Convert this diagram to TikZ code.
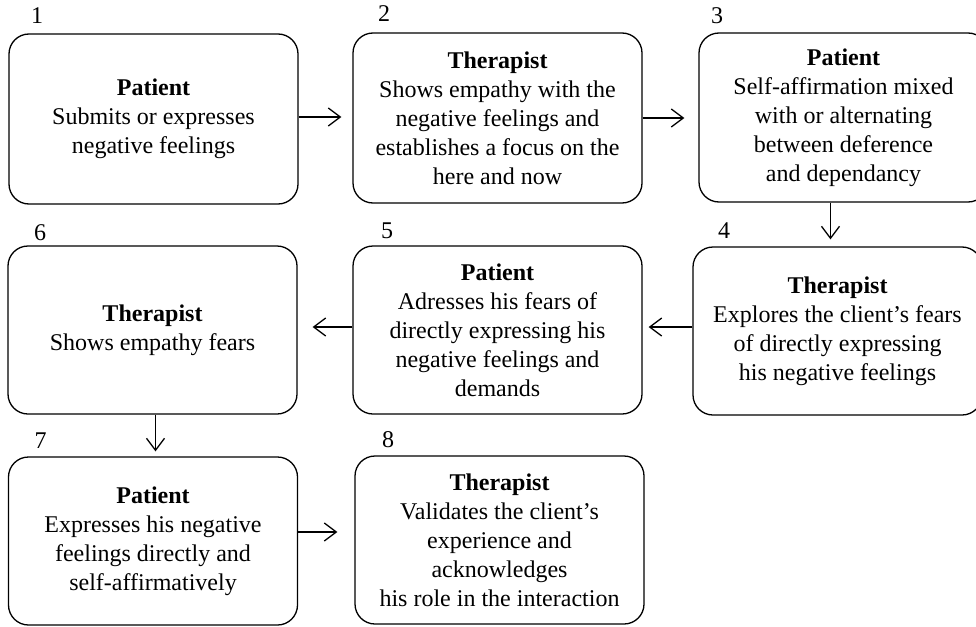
\documentclass[tikz,border=0pt]{standalone}
\usepackage{fontspec}
\setmainfont{Liberation Serif}
\usetikzlibrary{arrows.meta,positioning}
\tikzstyle{flowboxes}=[%
    every path/.style = {%
		black,
		line width=1.3pt
    },%
	stage/.style={%
		draw,
		rounded corners=20pt,
		align=center,
		inner sep=0pt,
		minimum width=289pt,
		minimum height=169pt,
		font=\fontsize{24}{29}\selectfont
	},
	stepnum/.style={%
		inner sep=0pt,
		font=\fontsize{24}{29}\selectfont
	},
	flow/.style={%
		-{Straight Barb[length=12pt,width=18pt]}
	}
]

\begin{document}
\begin{tikzpicture}[
	x=1pt, y=-1pt,
	flowboxes
]
	\useasboundingbox (0,0) rectangle (976,626);

	\node[stage, minimum height=170pt] (b1) at (153.5,119) {\textbf{Patient}\\Submits or expresses\\negative feelings};
	\node[stage, minimum height=170pt] (b2) at (497.5,118) {\textbf{Therapist}\\Shows empathy with the\\negative feelings and\\establishes a focus on the\\here and now};
	\node[stage] (b3) at (843.5,117.5) {\textbf{Patient}\\Self-affirmation mixed\\with or alternating\\between deference\\and dependancy};
	\node[stage, minimum height=168pt] (b4) at (837.5,331) {\textbf{Therapist}\\Explores the client’s fears\\of directly expressing\\his negative feelings};
	\node[stage, minimum height=168pt] (b5) at (497.5,330) {\textbf{Patient}\\Adresses his fears of\\directly expressing his\\negative feelings and\\demands};
	\node[stage, minimum height=168pt] (b6) at (152.5,330) {\textbf{Therapist}\\Shows empathy fears};
	\node[stage, minimum height=168pt] (b7) at (153,541) {\textbf{Patient}\\Expresses his negative\\feelings directly and\\self-affirmatively};
	\node[stage, minimum height=168pt] (b8) at (499.5,540) {\textbf{Therapist}\\Validates the client’s\\experience and\\acknowledges\\his role in the interaction};

	\foreach \n/\dx/\dy in {1/22/9, 2/25/10, 3/12/8, 4/25/7, 5/28/6, 6/26/4, 7/26/7, 8/27/7} {
		\node[stepnum, above right=\dy pt and \dx pt of b\n.north west] (n\n) {\n};
	}

	\coordinate (a1) at ([yshift=2pt]b1.east);
	\coordinate (a2) at (b2.east);
	\coordinate (a3) at ([xshift=-13pt]b3.south);
	\coordinate (a4) at ([yshift=4pt]b4.west);
	\coordinate (a5) at ([yshift=3pt]b5.west);
	\coordinate (a6) at ([xshift=3pt]b6.south);
	\coordinate (a7) at ([yshift=9pt]b7.east);

	\draw[flow, shorten >=11pt] (a1) -- (a1 -| b2.west);
	\draw[flow, shorten >=14pt] (a2) -- (a2 -| b3.west);
	\draw[flow, shorten >=7pt] (a3) -- (a3 |- b4.north);
	\draw[flow, shorten >=6pt] (a4) -- (a4 -| b5.east);
	\draw[flow, shorten >=15pt] (a5) -- (a5 -| b6.east);
	\draw[flow, shorten >=5pt] (a6) -- (a6 |- b7.north);
	\draw[flow, shorten >=17pt] (a7) -- (a7 -| b8.west);
\end{tikzpicture}
\end{document}
